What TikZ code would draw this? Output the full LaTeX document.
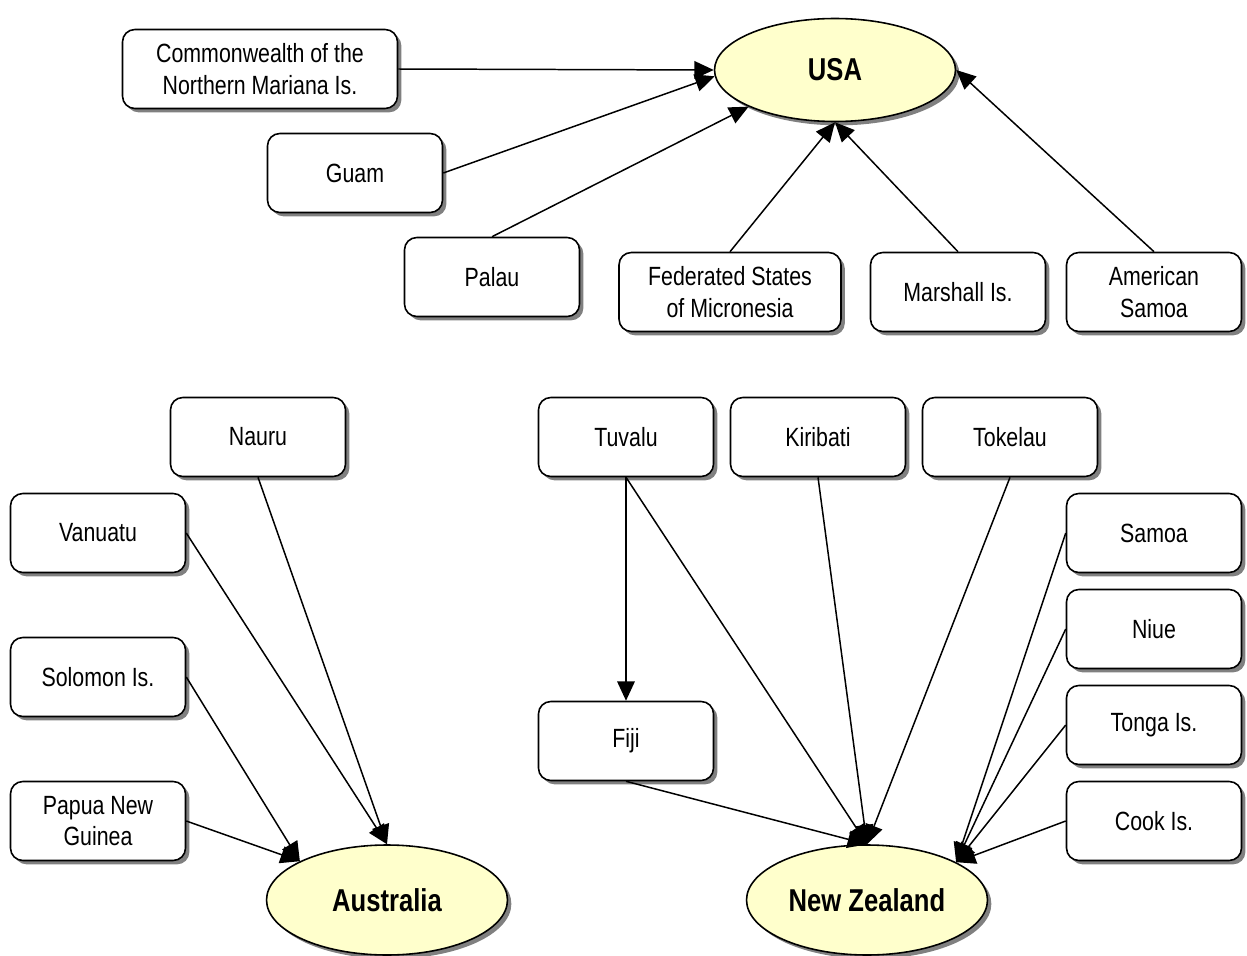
\documentclass[tikz,border=0pt]{standalone}
\usepackage{fontspec}
\setmainfont{Liberation Sans}[FakeStretch=0.81]
\usetikzlibrary{arrows.meta,shapes.geometric,shadows}
\definecolor{nodeyellow}{RGB}{255,255,204}
\definecolor{shadowgray}{RGB}{128,128,128}
\tikzset{
  boxshadow/.style={drop shadow={shadow xshift=2.2pt, shadow yshift=-2.2pt, fill=shadowgray, opacity=1}},
  island/.style={draw, line width=0.9pt, rounded corners=7pt, fill=white, boxshadow,
    minimum width=3.5cm, minimum height=1.58cm, align=center, font=\fontsize{15}{18}\selectfont},
  power/.style={ellipse, draw, line width=0.9pt, fill=nodeyellow, boxshadow,
    minimum width=4.82cm, minimum height=2.2cm, font=\fontsize{18}{21}\selectfont\bfseries},
  link/.style={-{Triangle[length=11pt,width=10pt]}, line width=0.85pt}
}
\begin{document}
\begin{tikzpicture}[x=0.02cm, y=-0.02cm]
  \useasboundingbox (0,0) rectangle (1247,956);
  % USA group
  \node[island, minimum width=5.5cm] (cnmi) at (260,69) {Commonwealth of the\\Northern Mariana Is.};
  \node[island] (guam) at (355,173) {Guam};
  \node[island] (palau) at (492,277) {Palau};
  \node[island, minimum width=4.44cm] (fsm) at (730,292) {Federated States\\of Micronesia};
  \node[island] (marshall) at (958,292) {Marshall Is.};
  \node[island] (amsamoa) at (1154,292) {American\\Samoa};
  \node[power, minimum height=2.06cm] (usa) at (835,70) {USA};
  % Australia group
  \node[island] (nauru) at (258,437) {Nauru};
  \node[island] (vanuatu) at (98,533) {Vanuatu};
  \node[island] (solomon) at (98,677) {Solomon Is.};
  \node[island] (png) at (98,821) {Papua New\\Guinea};
  \node[power] (aus) at (387,900) {Australia};
  % New Zealand group
  \node[island] (tuvalu) at (626,437) {Tuvalu};
  \node[island] (kiribati) at (818,437) {Kiribati};
  \node[island] (tokelau) at (1010,437) {Tokelau};
  \node[island] (samoa) at (1154,533) {Samoa};
  \node[island] (niue) at (1154,629) {Niue};
  \node[island] (tonga) at (1154,725) {Tonga Is.};
  \node[island] (cook) at (1154,821) {Cook Is.};
  \node[island] (fiji) at (626,741) {Fiji};
  \node[power] (nz) at (867,900) {New Zealand};
  \begin{scope}[link]
    \draw (cnmi.east) to (usa.west);
    \draw (guam.east) to (usa.183);
    \draw (palau.north) to (usa.203);
    \draw (fsm.north) to (usa.south);
    \draw (marshall.north) to (usa.south);
    \draw (amsamoa.north) to (usa.east);
    \draw (nauru.south) to (aus.north);
    \draw (vanuatu.east) to (aus.north);
    \draw (solomon.east) to (aus.156);
    \draw (png.east) to (aus.156);
    \draw (tuvalu.south) to (fiji.north);
    \draw (tuvalu.south) to (nz.north);
    \draw (kiribati.south) to (nz.north);
    \draw (tokelau.south) to (nz.north);
    \draw (fiji.south) to (nz.north);
    \draw (samoa.west) to (nz.23);
    \draw (niue.west) to (nz.23);
    \draw (tonga.west) to (nz.23);
    \draw (cook.west) to (nz.23);
  \end{scope}
\end{tikzpicture}
\end{document}
